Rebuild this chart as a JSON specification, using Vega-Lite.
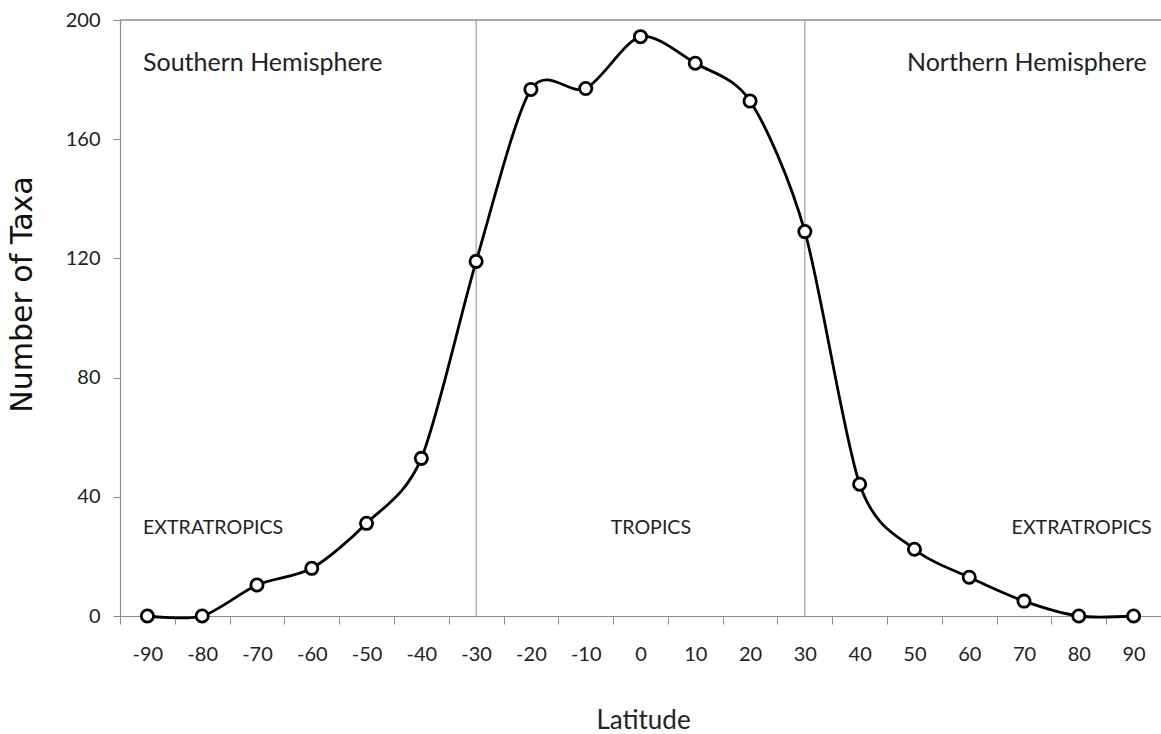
{
  "$schema": "https://vega.github.io/schema/vega-lite/v6.json",
  "autosize": {"type": "none"},
  "padding": {"left": 120, "top": 20, "right": 0, "bottom": 118},
  "width": 1041,
  "height": 596,
  "background": "white",
  "config": {"view": {"stroke": null}},
  "datasets": {
    "taxa": [
      {"lat": -90, "taxa": 0},
      {"lat": -80, "taxa": 0},
      {"lat": -70, "taxa": 10.4},
      {"lat": -60, "taxa": 16},
      {"lat": -50, "taxa": 31.1},
      {"lat": -40, "taxa": 52.9},
      {"lat": -30, "taxa": 119},
      {"lat": -20, "taxa": 176.7},
      {"lat": -10, "taxa": 177},
      {"lat": 0, "taxa": 194.4},
      {"lat": 10, "taxa": 185.5},
      {"lat": 20, "taxa": 172.8},
      {"lat": 30, "taxa": 129},
      {"lat": 40, "taxa": 44.2},
      {"lat": 50, "taxa": 22.4},
      {"lat": 60, "taxa": 13},
      {"lat": 70, "taxa": 5},
      {"lat": 80, "taxa": 0},
      {"lat": 90, "taxa": 0}
    ],
    "bounds": [{"lat": -30}, {"lat": 30}],
    "labelsLeft": [
      {"lat": -90.8, "taxa": 185.5, "text": "Southern Hemisphere", "size": "big"},
      {"lat": -90.8, "taxa": 29.5, "text": "EXTRATROPICS", "size": "small"}
    ],
    "labelsRight": [
      {"lat": 92.4, "taxa": 185.5, "text": "Northern Hemisphere", "size": "big"},
      {"lat": 93.3, "taxa": 29.5, "text": "EXTRATROPICS", "size": "small"}
    ],
    "labelsCenter": [
      {"lat": 1.9, "taxa": 29.5, "text": "TROPICS"}
    ]
  },
  "resolve": {"axis": {"x": "independent"}},
  "layer": [
    {
      "data": {"name": "bounds"},
      "mark": {"type": "rule", "color": "#8c8c8c", "strokeWidth": 1},
      "encoding": {
        "x": {
          "field": "lat", "type": "quantitative",
          "scale": {"domain": [-95, 95], "nice": false, "zero": false},
          "axis": {
            "orient": "bottom",
            "title": null,
            "values": [-95, -85, -75, -65, -55, -45, -35, -25, -15, -5, 5, 15, 25, 35, 45, 55, 65, 75, 85, 95],
            "labels": false,
            "ticks": true, "tickSize": 8, "tickColor": "#8c8c8c", "tickWidth": 1,
            "domain": true, "domainColor": "#8c8c8c", "domainWidth": 1.2,
            "grid": false
          }
        }
      }
    },
    {
      "data": {"name": "bounds"},
      "mark": {"type": "rule", "color": "#8c8c8c", "strokeWidth": 1},
      "encoding": {
        "y": {"datum": 200, "type": "quantitative"}
      }
    },
    {
      "data": {"name": "taxa"},
      "mark": {"type": "line", "interpolate": "cardinal", "tension": 0.15, "color": "#000000", "strokeWidth": 2.8},
      "encoding": {
        "x": {
          "field": "lat", "type": "quantitative",
          "axis": {
            "orient": "bottom",
            "title": "Latitude",
            "titleFont": "Lato", "titleFontSize": 26, "titleFontWeight": "normal", "titleColor": "#222222",
            "titleX": 523, "titleY": 112, "titleBaseline": "alphabetic", "titleAnchor": null,
            "values": [-90, -80, -70, -60, -50, -40, -30, -20, -10, 0, 10, 20, 30, 40, 50, 60, 70, 80, 90],
            "labelExpr": "'' + datum.value",
            "labelFont": "Lato", "labelFontSize": 20, "labelColor": "#222222",
            "labelPadding": 28, "labelOverlap": false, "labelFlush": false,
            "ticks": false, "tickSize": 0,
            "domain": false,
            "grid": false
          }
        },
        "y": {
          "field": "taxa", "type": "quantitative",
          "scale": {"domain": [0, 200], "nice": false},
          "axis": {
            "title": "Number of Taxa",
            "titleFont": "DejaVu Sans", "titleFontSize": 30, "titleFontWeight": "normal", "titleColor": "#111111",
            "titleX": -89, "titleY": 274, "titleAngle": -90, "titleAlign": "center", "titleBaseline": "alphabetic", "titleAnchor": null,
            "values": [0, 40, 80, 120, 160, 200],
            "labelFont": "Lato", "labelFontSize": 20, "labelColor": "#222222",
            "labelPadding": 13,
            "tickSize": 7, "tickColor": "#8c8c8c", "tickWidth": 1,
            "domainColor": "#8c8c8c", "domainWidth": 1.2,
            "grid": false
          }
        }
      }
    },
    {
      "data": {"name": "taxa"},
      "mark": {"type": "point", "shape": "circle", "filled": true, "fill": "#ffffff", "stroke": "#000000", "strokeWidth": 2.8, "size": 150, "opacity": 1},
      "encoding": {
        "x": {"field": "lat", "type": "quantitative", "axis": null},
        "y": {"field": "taxa", "type": "quantitative"}
      }
    },
    {
      "data": {"name": "labelsLeft"},
      "mark": {"type": "text", "align": "left", "baseline": "middle", "font": "Lato", "color": "#222222"},
      "encoding": {
        "x": {"field": "lat", "type": "quantitative", "axis": null},
        "y": {"field": "taxa", "type": "quantitative"},
        "text": {"field": "text"},
        "size": {"field": "size", "type": "nominal", "scale": {"domain": ["big", "small"], "range": [25, 19.6]}, "legend": null}
      }
    },
    {
      "data": {"name": "labelsRight"},
      "mark": {"type": "text", "align": "right", "baseline": "middle", "font": "Lato", "color": "#222222"},
      "encoding": {
        "x": {"field": "lat", "type": "quantitative", "axis": null},
        "y": {"field": "taxa", "type": "quantitative"},
        "text": {"field": "text"},
        "size": {"field": "size", "type": "nominal", "scale": {"domain": ["big", "small"], "range": [25, 19.6]}, "legend": null}
      }
    },
    {
      "data": {"name": "labelsCenter"},
      "mark": {"type": "text", "align": "center", "baseline": "middle", "font": "Lato", "fontSize": 19.6, "color": "#222222"},
      "encoding": {
        "x": {"field": "lat", "type": "quantitative", "axis": null},
        "y": {"field": "taxa", "type": "quantitative"},
        "text": {"field": "text"}
      }
    }
  ]
}
